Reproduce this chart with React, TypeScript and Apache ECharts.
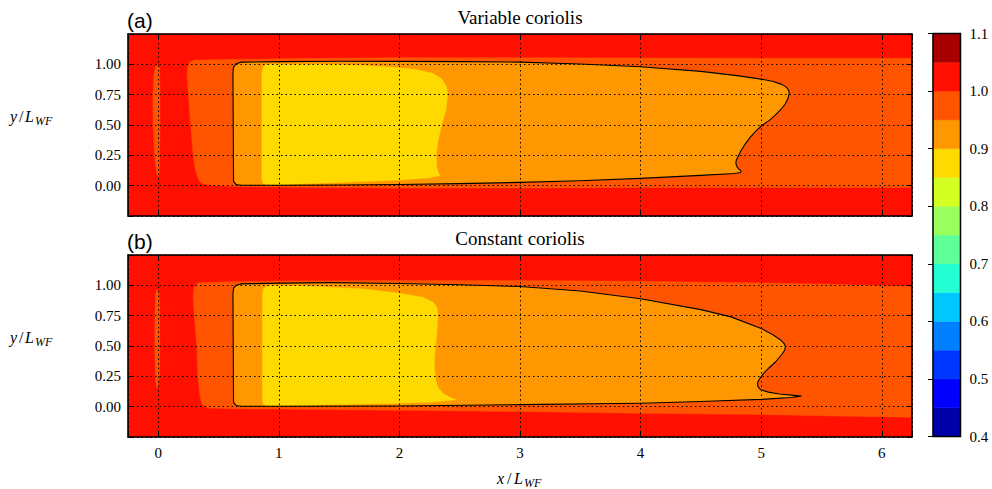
import React, { useEffect, useRef } from "react";
import * as echarts from "echarts";

type Pt = [number, number];

// colour levels (contourf bands, lower bounds) and jet colours
const levels: number[] = [0.4, 0.45, 0.5, 0.55, 0.6, 0.65, 0.7, 0.75, 0.8, 0.85, 0.9, 0.95, 1.0, 1.05, 1.1];
const levelColors: string[] = [
  "#0000a9", "#0000fc", "#0037ff", "#0080ff", "#00c8ff", "#23ffd3", "#5eff99",
  "#99ff5e", "#d3ff23", "#ffda00", "#ff9700", "#ff5400", "#ff1000", "#a80000",
];

const panelTitles = ["Variable coriolis", "Constant coriolis"];
const panelTags = ["(a)", "(b)"];

// ---------- panel (a): variable coriolis ----------
const aBand100: Pt[] = [[-0.25, -0.25], [6.25, -0.25], [6.25, 1.25], [-0.25, 1.25]];
const aBand095: Pt[] = [
  [0.3, 1.035], [0.6, 1.04], [1.0, 1.045], [2.0, 1.055], [3.0, 1.055], [4.0, 1.052], [5.0, 1.05], [6.25, 1.05],
  [6.25, -0.015], [5.0, -0.015], [4.0, -0.015], [3.0, -0.02], [2.0, -0.02], [1.0, -0.012], [0.6, -0.005],
  [0.42, 0.005], [0.37, 0.015], [0.34, 0.04], [0.31, 0.12], [0.29, 0.25], [0.27, 0.5], [0.25, 0.75],
  [0.24, 0.93], [0.245, 0.985], [0.265, 1.02],
];
const aSliver095: Pt[] = [
  [-0.005, 0.99], [0.012, 0.97], [0.015, 0.75], [0.015, 0.5], [0.012, 0.25], [0.008, 0.1], [0.0, 0.075],
  [-0.012, 0.1], [-0.03, 0.25], [-0.042, 0.5], [-0.043, 0.75], [-0.035, 0.92], [-0.02, 0.98],
];
const aBand090: Pt[] = [
  [0.62, 0.93], [0.625, 0.975], [0.645, 1.005], [0.69, 1.018], [1.0, 1.022], [1.5, 1.025], [2.0, 1.024],
  [2.5, 1.022], [3.0, 1.018], [3.5, 1.003], [4.0, 0.98], [4.5, 0.942], [4.8, 0.907], [5.0, 0.878],
  [5.1, 0.858], [5.17, 0.835], [5.21, 0.81], [5.228, 0.785], [5.232, 0.76], [5.222, 0.72], [5.2, 0.675],
  [5.165, 0.63], [5.12, 0.585], [5.07, 0.54], [5.01, 0.5], [4.955, 0.45], [4.91, 0.4], [4.868, 0.345],
  [4.833, 0.29], [4.808, 0.24], [4.792, 0.205], [4.79, 0.18], [4.8, 0.155],
  [4.815, 0.137], [4.832, 0.122], [4.83, 0.109], [4.78, 0.1], [4.5, 0.085], [4.0, 0.06], [3.5, 0.04],
  [3.0, 0.027], [2.5, 0.017], [2.0, 0.01], [1.5, 0.005], [1.0, 0.003], [0.69, 0.003], [0.645, 0.01],
  [0.625, 0.035],
];
const aBand085: Pt[] = [
  [0.86, 0.93], [0.87, 0.98], [0.895, 0.997], [0.95, 1.0], [1.4, 1.0], [1.7, 0.99], [1.95, 0.975],
  [2.15, 0.955], [2.28, 0.925], [2.35, 0.88], [2.39, 0.82], [2.4, 0.75], [2.385, 0.62], [2.35, 0.5],
  [2.32, 0.37], [2.305, 0.25], [2.31, 0.15], [2.325, 0.1], [2.34, 0.083], [2.25, 0.065], [2.0, 0.047],
  [1.5, 0.027], [1.2, 0.015], [1.0, 0.008], [0.9, 0.006], [0.87, 0.02], [0.86, 0.06],
];
const aContour: Pt[] = aBand090;

// ---------- panel (b): constant coriolis ----------
const bBand100: Pt[] = [[-0.25, -0.25], [6.25, -0.25], [6.25, 1.25], [-0.25, 1.25]];
const bBand095: Pt[] = [
  [0.33, 1.02], [0.6, 1.03], [1.0, 1.035], [2.0, 1.04], [3.0, 1.04], [4.0, 1.033], [5.0, 1.02], [5.5, 1.01],
  [6.25, 0.99], [6.25, -0.088], [5.5, -0.075], [5.0, -0.065], [4.0, -0.055], [3.0, -0.04], [2.0, -0.03],
  [1.0, -0.02], [0.6, -0.018], [0.42, -0.012], [0.38, 0.0], [0.36, 0.03], [0.345, 0.1], [0.33, 0.25],
  [0.32, 0.5], [0.3, 0.75], [0.29, 0.9], [0.295, 0.97], [0.31, 1.005],
];
const bSliver095: Pt[] = [
  [-0.01, 0.965], [0.005, 0.95], [0.012, 0.8], [0.013, 0.5], [0.01, 0.25], [0.0, 0.17], [-0.01, 0.155],
  [-0.02, 0.2], [-0.027, 0.4], [-0.028, 0.6], [-0.025, 0.85], [-0.018, 0.94],
];
const bBand090: Pt[] = [
  [0.62, 0.93], [0.625, 0.975], [0.645, 1.0], [0.69, 1.012], [1.0, 1.018], [1.43, 1.022], [2.0, 1.015],
  [2.5, 1.005], [3.0, 0.99], [3.5, 0.953], [4.0, 0.89], [4.5, 0.8], [4.75, 0.74], [5.0, 0.645],
  [5.1, 0.59], [5.16, 0.55], [5.19, 0.52], [5.2, 0.5], [5.195, 0.465], [5.17, 0.43], [5.12, 0.37],
  [5.07, 0.325], [5.025, 0.28], [4.99, 0.235], [4.97, 0.2], [4.972, 0.165], [4.995, 0.14], [5.06, 0.12],
  [5.15, 0.105], [5.25, 0.095], [5.33, 0.087], [5.25, 0.076], [5.1, 0.066], [5.0, 0.06], [4.5, 0.042],
  [4.0, 0.028], [3.0, 0.017], [2.0, 0.006], [1.0, 0.003], [0.69, 0.003], [0.645, 0.01], [0.625, 0.035],
];
const bBand085: Pt[] = [
  [0.865, 0.93], [0.875, 0.975], [0.9, 0.993], [0.95, 0.997], [1.2, 0.995], [1.43, 0.985], [1.7, 0.97],
  [2.0, 0.935], [2.2, 0.9], [2.28, 0.86], [2.31, 0.82], [2.32, 0.75], [2.31, 0.6], [2.3, 0.5], [2.29, 0.4],
  [2.29, 0.32], [2.3, 0.22], [2.32, 0.16], [2.36, 0.11], [2.42, 0.075], [2.47, 0.058], [2.35, 0.045],
  [2.24, 0.036], [2.0, 0.028], [1.7, 0.022], [1.3, 0.013], [1.0, 0.008], [0.9, 0.006], [0.87, 0.02],
  [0.865, 0.06],
];
const bContour: Pt[] = bBand090;

const panels = [
  {
    regions: [
      { level: 1.0, pts: aBand100 },
      { level: 0.95, pts: aBand095 },
      { level: 0.95, pts: aSliver095 },
      { level: 0.9, pts: aBand090 },
      { level: 0.85, pts: aBand085 },
    ],
    contour: aContour,
  },
  {
    regions: [
      { level: 1.0, pts: bBand100 },
      { level: 0.95, pts: bBand095 },
      { level: 0.95, pts: bSliver095 },
      { level: 0.9, pts: bBand090 },
      { level: 0.85, pts: bBand085 },
    ],
    contour: bContour,
  },
];

const SERIF = "'Liberation Serif', 'DejaVu Serif', serif";
const SANS = "'Liberation Sans', Arial, sans-serif";

const colorOf = (level: number) => levelColors[Math.round((level - levels[0]) / 0.05)];

function buildOption() {
  const grids: any[] = [
    { left: 128, top: 34, width: 784, height: 182 },
    { left: 128, top: 255, width: 784, height: 182 },
    { left: 933, top: 33.5, width: 27.5, height: 403 },
  ];
  const xAxes: any[] = [];
  const yAxes: any[] = [];
  const series: any[] = [];

  [0, 1].forEach((p) => {
    const line = { show: true, onZero: false, lineStyle: { color: "#000", width: 1.5 } };
    const tick = { show: true, inside: true, length: 5, lineStyle: { color: "#000", width: 1 } };
    const split = { show: true, lineStyle: { color: "#000", width: 1, type: [1.5, 3] } };
    const xLabel = {
      show: p === 1, margin: 8, color: "#000", fontFamily: SERIF, fontSize: 15,
      formatter: (v: number) => (Math.abs(v - Math.round(v)) < 1e-6 ? String(Math.round(v)) : ""),
    };
    const yLabel = {
      show: true, margin: 7, color: "#000", fontFamily: SERIF, fontSize: 15,
      formatter: (v: number) => (v < -1e-6 || v > 1 + 1e-6 ? "" : v.toFixed(2)),
    };
    xAxes.push({
      gridIndex: p, type: "value", min: -0.25, max: 6.25, minInterval: 1, maxInterval: 1, position: "bottom",
      z: 5, axisLine: line, axisTick: tick, axisLabel: xLabel, splitLine: split,
    });
    xAxes.push({
      gridIndex: p, type: "value", min: -0.25, max: 6.25, minInterval: 1, maxInterval: 1, position: "top",
      z: 5, axisLine: line, axisTick: tick, axisLabel: { show: false }, splitLine: { show: false },
    });
    yAxes.push({
      gridIndex: p, type: "value", min: -0.25, max: 1.25, interval: 0.25, position: "left",
      z: 5, axisLine: line, axisTick: tick, axisLabel: yLabel, splitLine: split,
    });
    yAxes.push({
      gridIndex: p, type: "value", min: -0.25, max: 1.25, interval: 0.25, position: "right",
      z: 5, axisLine: line, axisTick: tick, axisLabel: { show: false }, splitLine: { show: false },
    });
    const xi = p * 2;
    const yi = p * 2;
    panels[p].regions.forEach((r) => {
      const pts = r.pts;
      const fill = colorOf(r.level);
      series.push({
        type: "custom", coordinateSystem: "cartesian2d", xAxisIndex: xi, yAxisIndex: yi, z: 2, silent: true,
        data: pts, encode: { x: 0, y: 1 },
        renderItem: (params: any, api: any) => {
          if (params.dataIndex !== 0) return null;
          return {
            type: "polygon",
            shape: { points: pts.map((q) => api.coord(q)) },
            style: { fill, stroke: fill, lineWidth: 0.5 },
          };
        },
      });
    });
    const cpts = panels[p].contour;
    series.push({
      type: "custom", coordinateSystem: "cartesian2d", xAxisIndex: xi, yAxisIndex: yi, z: 3, silent: true,
      data: cpts, encode: { x: 0, y: 1 },
      renderItem: (params: any, api: any) => {
        if (params.dataIndex !== 0) return null;
        return {
          type: "polygon",
          shape: { points: cpts.map((q) => api.coord(q)) },
          style: { fill: "none", stroke: "#000", lineWidth: 1.1, lineJoin: "round" },
        };
      },
    });
  });

  // colourbar
  xAxes.push({ gridIndex: 2, type: "value", min: 0, max: 1, show: false });
  yAxes.push({
    gridIndex: 2, type: "value", min: 0.4, max: 1.1, interval: 0.1, position: "right", z: 5,
    axisLine: { show: false },
    axisTick: { show: true, inside: true, length: 5, lineStyle: { color: "#000", width: 1 } },
    axisLabel: {
      show: true, margin: 9, color: "#000", fontFamily: SERIF, fontSize: 15,
      formatter: (v: number) => v.toFixed(1),
    },
    splitLine: { show: false },
  });
  const bands = levelColors.map((c, i) => [0, levels[i], 1, levels[i + 1]]);
  series.push({
    type: "custom", coordinateSystem: "cartesian2d", xAxisIndex: 4, yAxisIndex: 4, z: 2, silent: true,
    data: bands, encode: { x: [0, 2], y: [1, 3] },
    renderItem: (params: any, api: any) => {
      const a = api.coord([api.value(0), api.value(1)]);
      const b = api.coord([api.value(2), api.value(3)]);
      const c = levelColors[params.dataIndex];
      return {
        type: "rect",
        shape: { x: a[0], y: b[1], width: b[0] - a[0], height: a[1] - b[1] },
        style: { fill: c, stroke: c, lineWidth: 0.5 },
      };
    },
  });
  series.push({
    type: "custom", coordinateSystem: "cartesian2d", xAxisIndex: 4, yAxisIndex: 4, z: 6, silent: true,
    data: [[0, levels[0], 1, levels[levels.length - 1]]], encode: { x: [0, 2], y: [1, 3] },
    renderItem: (params: any, api: any) => {
      const a = api.coord([api.value(0), api.value(1)]);
      const b = api.coord([api.value(2), api.value(3)]);
      return {
        type: "rect",
        shape: { x: a[0], y: b[1], width: b[0] - a[0], height: a[1] - b[1] },
        style: { fill: "none", stroke: "#000", lineWidth: 1.5 },
      };
    },
  });

  const italic = { fontFamily: SERIF, fontStyle: "italic", fill: "#000" };
  const graphic: any[] = [];
  const panelTop = [34, 255];
  [0, 1].forEach((p) => {
    const t = panelTop[p];
    graphic.push({
      type: "text", x: 520, y: t - 17, silent: true,
      style: { text: panelTitles[p], fontFamily: SERIF, fontSize: 19, fill: "#000", align: "center", verticalAlign: "middle" },
    });
    graphic.push({
      type: "text", x: 127, y: t - 13.5, silent: true,
      style: { text: panelTags[p], fontFamily: SANS, fontSize: 21, fill: "#000", align: "left", verticalAlign: "middle" },
    });
    // y label
    graphic.push({
      type: "text", x: 10, y: t + 82, silent: true,
      style: { ...italic, text: "y", fontSize: 16, align: "left", verticalAlign: "middle" },
    });
    graphic.push({
      type: "text", x: 19, y: t + 82, silent: true,
      style: { fontFamily: SERIF, fill: "#000", text: "/", fontSize: 16, align: "left", verticalAlign: "middle" },
    });
    graphic.push({
      type: "text", x: 25, y: t + 82, silent: true,
      style: { ...italic, text: "L", fontSize: 16, align: "left", verticalAlign: "middle" },
    });
    graphic.push({
      type: "text", x: 35, y: t + 87, silent: true,
      style: { ...italic, text: "WF", fontSize: 12, align: "left", verticalAlign: "middle" },
    });
  });
  // x label
  graphic.push({ type: "text", x: 497, y: 478, silent: true, style: { ...italic, text: "x", fontSize: 16, align: "left", verticalAlign: "middle" } });
  graphic.push({ type: "text", x: 507, y: 478, silent: true, style: { fontFamily: SERIF, fill: "#000", text: "/", fontSize: 16, align: "left", verticalAlign: "middle" } });
  graphic.push({ type: "text", x: 514, y: 478, silent: true, style: { ...italic, text: "L", fontSize: 16, align: "left", verticalAlign: "middle" } });
  graphic.push({ type: "text", x: 524, y: 483, silent: true, style: { ...italic, text: "WF", fontSize: 12, align: "left", verticalAlign: "middle" } });

  return {
    animation: false,
    backgroundColor: "#fff",
    grid: grids,
    xAxis: xAxes,
    yAxis: yAxes,
    series,
    graphic,
  };
}

export default function App() {
  const ref = useRef<HTMLDivElement>(null);
  useEffect(() => {
    if (!ref.current) return;
    const chart = echarts.init(ref.current, undefined, { renderer: "svg" });
    chart.setOption(buildOption() as any);
    return () => chart.dispose();
  }, []);
  return <div ref={ref} style={{ position: "fixed", left: 0, top: 0, width: 992, height: 489 }} />;
}
